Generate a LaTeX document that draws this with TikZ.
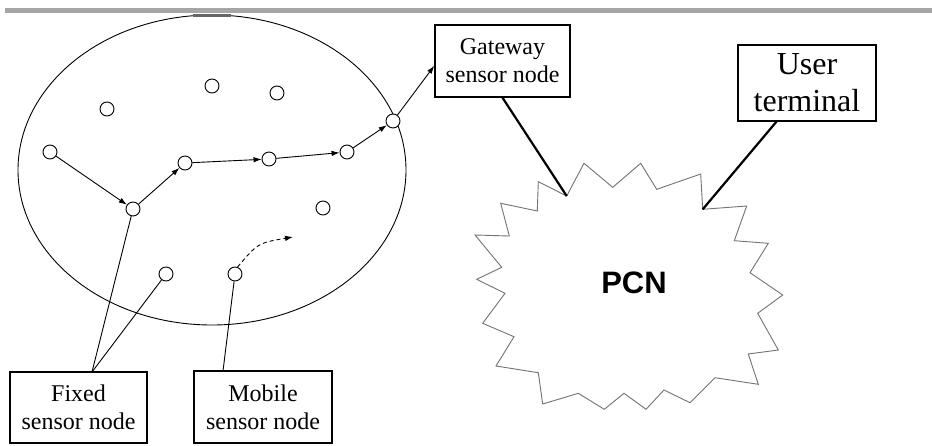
\documentclass[tikz,border=0pt]{standalone}
\usepackage{fontspec}
\setmainfont{Liberation Serif}
\newfontfamily\pcnfont{Liberation Sans}
\usetikzlibrary{arrows.meta}

\begin{document}
\begin{tikzpicture}[x=1pt,y=-1pt,
  sensor/.style={circle,draw,fill=white,line width=0.9pt,minimum size=14pt,inner sep=0pt},
  labelbox/.style={draw,line width=1.4pt,align=center,inner sep=0pt,fill=white},
  smalltext/.style={font=\fontsize{24}{28}\selectfont},
  bigtext/.style={font=\fontsize{32}{37}\selectfont},
  hop/.style={line width=0.9pt,-{Latex[length=8pt,width=5.5pt]}},
  lead/.style={line width=0.9pt},
  link/.style={line width=2.2pt},
  cloudline/.style={draw=black!55,line width=0.9pt,fill=white,line join=miter},
]
% canvas
\fill[white] (0,0) rectangle (932,445);
\useasboundingbox (0,0) rectangle (932,445);

% header rule
\fill[gray!70] (5,8) rectangle (932,13);

% sensor field
\draw[line width=0.9pt] (212,170) ellipse [x radius=194, y radius=155];
\draw[line width=2.5pt,black!60] (193,15.5) -- (231,15.5);

% sensor nodes
\node[sensor] (P1) at (107,109) {};
\node[sensor] (P2) at (212,86) {};
\node[sensor] (P3) at (277,93) {};
\node[sensor] (A) at (50,152) {};
\node[sensor] (B) at (133,209) {};
\node[sensor] (C) at (185,163) {};
\node[sensor] (D) at (269,159) {};
\node[sensor] (E) at (347,152) {};
\node[sensor] (G) at (393,121) {};
\node[sensor] (F) at (323,208) {};
\node[sensor] (H) at (166,274) {};
\node[sensor] (M) at (235,274) {};

% multi-hop route towards the gateway
\draw[hop] (A) -- (B);
\draw[hop] (B) -- (C);
\draw[hop] (C) -- (D);
\draw[hop] (D) -- (E);
\draw[hop] (E) -- (G);

% label boxes
\node[labelbox,smalltext,minimum width=135pt,minimum height=72pt] (gw) at (502.5,61) {Gateway\\sensor node};
\node[labelbox,bigtext,minimum width=138pt,minimum height=76pt] (ut) at (807,83) {User\\terminal};
\node[labelbox,smalltext,minimum width=137pt,minimum height=71pt] (fx) at (78.5,407.5) {Fixed\\sensor node};
\node[labelbox,smalltext,minimum width=138pt,minimum height=72pt] (mb) at (263,407) {Mobile\\sensor node};

\draw[hop] (G) -- (gw.184);

% movement of the mobile node
\coordinate (mtip) at (293,237);
\draw[hop,dash pattern=on 4pt off 3pt] (M.70) .. controls (258,243) .. (mtip);

% pointers from the labels
\coordinate (fxtop) at (92,372);
\coordinate (mbtop) at (223,371);
\draw[lead] (fxtop) -- (B);
\draw[lead] (fxtop) -- (H);
\draw[lead] (mbtop) -- (M);

% PCN cloud
\coordinate (pcnL) at (566.7,196);
\coordinate (pcnR) at (702.7,209.3);
\draw[cloudline] (475,235) -- (509.3,236) -- (500.7,203.3) -- (537.3,211)
  -- (538.3,181.7) -- (pcnL) -- (584,163.3) -- (612.7,187.3) -- (640.7,163.3)
  -- (656.7,189.3) -- (700.7,174) -- (pcnR) -- (746.7,206) -- (734.3,240.7)
  -- (768.3,243.3) -- (750,272.7) -- (782.7,295) -- (757.7,313.3)
  -- (778.3,350) -- (748.3,354) -- (758.3,384.3) -- (715,377.7)
  -- (690,402.7) -- (664,390) -- (646,409.3) -- (624,393.3) -- (604.3,409.3)
  -- (578.3,393.3) -- (542.7,404) -- (538.3,372.7) -- (496,366) -- (514,336.7)
  -- (482.7,323.3) -- (505,293.3) -- (476.7,279.3) -- (501.7,267.3) -- cycle;
\node[font=\pcnfont\bfseries\fontsize{31}{31}\selectfont] (pcn) at (634,283) {PCN};

% links into the PCN
\coordinate (utfoot) at (777,121);
\draw[link] (gw.south) -- (pcnL);
\draw[link] (utfoot) -- (pcnR);
\end{tikzpicture}
\end{document}
